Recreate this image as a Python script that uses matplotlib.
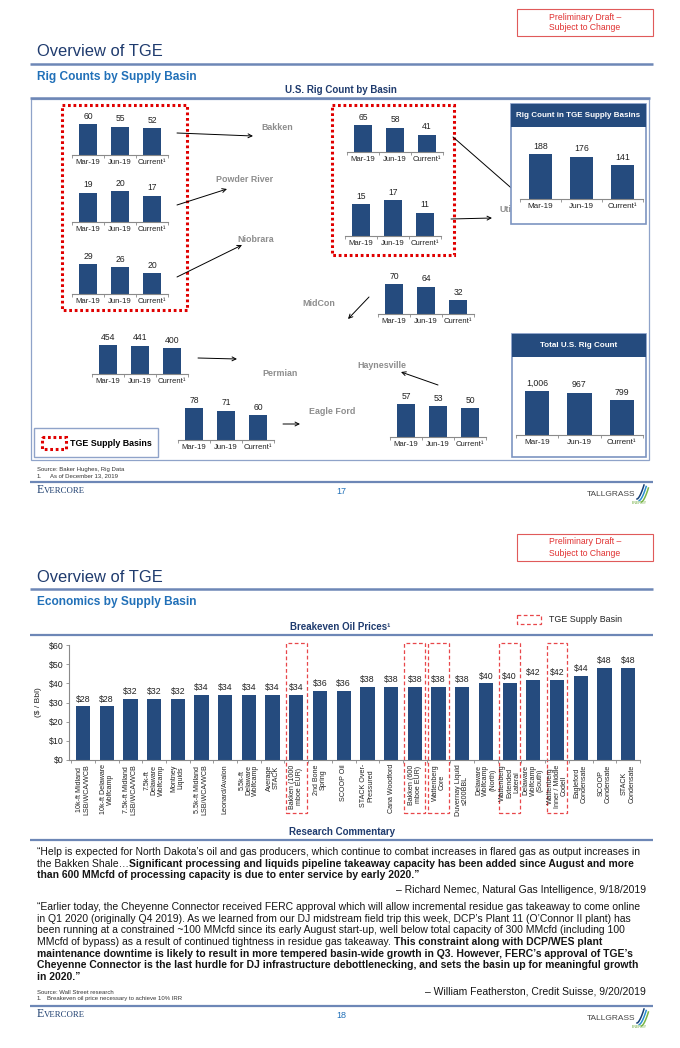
import numpy as np
import matplotlib
matplotlib.use('Agg')
import matplotlib.pyplot as plt
from matplotlib.patches import Rectangle

plt.rcParams['font.family'] = ['Liberation Sans', 'DejaVu Sans']

W, H = 680, 1048

# ---- rig counts (Mar-19, Jun-19, Current) ----
periods = ['Mar-19', 'Jun-19', 'Current¹']
bakken = [60, 55, 52]
powder_river = [19, 20, 17]
niobrara = [29, 26, 20]
marcellus = [65, 58, 41]
utica = [15, 17, 11]
midcon = [70, 64, 32]
permian = [454, 441, 400]
eagle_ford = [78, 71, 60]
haynesville = [57, 53, 50]
tge_total = [188, 176, 141]
us_total = [1006, 967, 799]
tge_change = '(25.0%)'
us_change = '(20.6%)'

# ---- breakeven oil prices ----
plays = ['10k-ft Midland\nLSB/WCA/WCB', '10k-ft Delaware\nWolfcamp', '7.5k-ft Midland\nLSB/WCA/WCB',
         '7.5k-ft\nDelaware\nWolfcamp', 'Montney\nLiquids', '5.5k-ft Midland\nLSB/WCA/WCB',
         'Leonard/Avalon', '5.5k-ft\nDelaware\nWolfcamp', 'Average\nSTACK', 'Bakken (1000\nmboe EUR)',
         '2nd Bone\nSpring', 'SCOOP Oil', 'STACK Over-\nPressured', 'Cana Woodford',
         'Bakken (600\nmboe EUR)', 'Wattenberg\nCore', 'Duvernay Liquid\ns200BBL',
         'Delaware\nWolfcamp\n(North)', 'Wattenberg\nExtended\nLateral', 'Delaware\nWolfcamp\n(South)',
         'Wattenberg\nInner / Middle\nCodell', 'Eagleford\nCondensate', 'SCOOP\nCondensate',
         'STACK\nCondensate']
breakeven = [28, 28, 32, 32, 32, 34, 34, 34, 34, 34, 36, 36, 38, 38, 38, 38, 38, 40, 40, 42, 42, 44, 48, 48]
tge_plays = [9, 14, 15, 18, 20]

NAVY = '#254b7e'
TITLE = '#1f3b6e'
SUB = '#2170b8'
RULE = '#6d87b6'
GRAY = '#8d8d8d'
RED = '#e31f26'
AXC = '#8a8a8a'

fig = plt.figure(figsize=(W / 100, H / 100), dpi=100)
bg = fig.add_axes([0, 0, 1, 1])
bg.set_xlim(0, W)
bg.set_ylim(H, 0)
bg.axis('off')
renderer = fig.canvas.get_renderer()


def px_axes(x0, y0, x1, y1):
    ax = fig.add_axes([x0 / W, 1 - y1 / H, (x1 - x0) / W, (y1 - y0) / H])
    ax.set_zorder(2)
    ax.patch.set_alpha(0)
    return ax


def hline(y, x0=30, x1=653, lw=1.6, color=RULE):
    bg.plot([x0, x1], [y, y], color=color, lw=lw, solid_capstyle='butt')


def rect(x0, y0, x1, y1, **kw):
    r = Rectangle((x0, y0), x1 - x0, y1 - y0, **kw)
    bg.add_patch(r)
    return r


def arrow(p0, p1, color='k', style='->', lw=0.7, ms=7):
    bg.annotate('', xy=p1, xytext=p0,
                arrowprops=dict(arrowstyle=style, color=color, lw=lw,
                                shrinkA=0, shrinkB=0, mutation_scale=ms))


def header(dy, subtitle):
    rect(517, 9 + dy, 653, 36 + dy, fill=False, ec='#e05a5a', lw=0.8)
    bg.text(585, 17 + dy, 'Preliminary Draft –', color='#e03030', fontsize=6.2,
            ha='center', va='center')
    bg.text(585, 28 + dy, 'Subject to Change', color='#e03030', fontsize=6.2,
            ha='center', va='center')
    bg.text(37, 52 + dy, 'Overview of TGE', color=TITLE, fontsize=11.9, va='center')
    hline(64 + dy, lw=1.8)
    bg.text(37, 77 + dy, subtitle, color=SUB, fontsize=8.6, fontweight='bold', va='center')


def logo(x, y):
    bg.text(x, y, 'TALLGRASS', fontsize=6, color='#454545', va='center', ha='left')
    bg.text(x + 60, y + 7.5, 'ENERGY', fontsize=2.6, color='#6cab3c', va='center', ha='right')
    t = np.linspace(0, 1, 30)
    for k, c in enumerate(['#143f78', '#2a8fcf', '#7ab648']):
        xs = x + 50 + k * 2.2 + 7 * t
        ys = y + 4 - 14 * t ** 1.6 + k * 1.5
        bg.plot(xs, ys, color=c, lw=1.1)


def footer(yl, num):
    hline(yl, lw=1.6)
    bg.text(37, yl + 11, 'E', family='Liberation Serif', fontsize=8.5, color='#1c3d6e', va='baseline')
    bg.text(44, yl + 11, 'VERCORE', family='Liberation Serif', fontsize=6.3, color='#1c3d6e',
            va='baseline')
    bg.text(341, yl + 10, num, fontsize=6.5, color=SUB, ha='center', va='center')
    logo(587, yl + 13)


def mini_chart(vals, x0, x1, base, hmax, width=0.56, vfs=6.2, tfs=5.6):
    ax = px_axes(x0, base - hmax, x1, base)
    x = np.arange(len(vals))
    ax.bar(x, vals, width=width, color=NAVY, linewidth=0)
    ax.set_xlim(-0.5, len(vals) - 0.5)
    ax.set_ylim(0, max(vals))
    for xi, v in zip(x, vals):
        ax.annotate(f'{v:,}', (xi, v), xytext=(0, 2.5), textcoords='offset points',
                    ha='center', va='bottom', fontsize=vfs, color='#222222')
    for s in ['top', 'right', 'left']:
        ax.spines[s].set_visible(False)
    ax.spines['bottom'].set_color(AXC)
    ax.spines['bottom'].set_linewidth(0.8)
    ax.set_yticks([])
    ax.set_xticks(np.arange(len(vals) + 1) - 0.5)
    ax.set_xticklabels([])
    ax.tick_params(axis='x', which='major', length=2.5, width=0.6, color=AXC, direction='out')
    ax.set_xticks(x, minor=True)
    ax.set_xticklabels(periods, minor=True, fontsize=tfs, color='#222222')
    ax.tick_params(axis='x', which='minor', length=0, pad=3)
    return ax


# ================= PAGE 1 =================
header(0, 'Rig Counts by Supply Basin')
bg.text(341, 90, 'U.S. Rig Count by Basin', color=TITLE, fontsize=7, fontweight='bold',
        ha='center', va='center')
hline(98, x0=30, x1=650, lw=1.8)
rect(31, 99, 649, 460, fill=False, ec='#8fa3c9', lw=0.9)

dotted = dict(fill=False, ec='#e00000', lw=2.2, ls=(0, (0.9, 0.9)))
rect(62, 105, 187, 310, zorder=3, **dotted)
rect(332, 105, 454, 255, zorder=3, **dotted)

mini_chart(bakken, 72, 168, 155, 31)
mini_chart(powder_river, 72, 168, 222, 31)
mini_chart(niobrara, 72, 168, 294, 30)
mini_chart(marcellus, 347, 443, 152, 27)
mini_chart(utica, 345, 441, 236, 36)
mini_chart(midcon, 378, 474, 314, 30)
mini_chart(permian, 92, 188, 374, 29)
mini_chart(eagle_ford, 178, 274, 440, 32)
mini_chart(haynesville, 390, 486, 437, 33)

lbl = dict(color=GRAY, fontsize=6.4, fontweight='bold', va='center', ha='left')
bg.text(261, 128, 'Bakken', **lbl)
bg.text(216, 179, 'Powder River', **lbl)
bg.text(237, 239, 'Niobrara', **lbl)
bg.text(302, 303, 'MidCon', **lbl)
bg.text(499, 209, 'Utica', **lbl)
bg.text(262, 374, 'Permian', **lbl)
bg.text(309, 412, 'Eagle Ford', **lbl)
bg.text(357, 366, 'Haynesville', **lbl)

arrow((177, 133), (253, 136))
arrow((177, 205), (227, 189))
arrow((177, 277), (242, 245))
arrow((453, 137), (525, 200))
arrow((451, 219), (492, 218))
arrow((369, 297), (348, 319))
arrow((198, 358), (237, 359))
arrow((283, 424), (300, 424))
arrow((438, 385), (401, 372))

# summary panels
for (x0, y0, x1, y1, title) in [(511, 104, 646, 224, 'Rig Count in TGE Supply Basins'),
                                (512, 334, 646, 457, 'Total U.S. Rig Count')]:
    rect(x0, y0, x1, y1, fc='white', ec='#7d95c1', lw=1.2, zorder=5)
    rect(x0, y0, x1, y0 + 23, fc=NAVY, ec='none', zorder=6)
    bg.text((x0 + x1) / 2, y0 + 11.5, title, color='white', fontsize=5.8, fontweight='bold',
            ha='center', va='center', zorder=7)

mini_chart(tge_total, 520, 643, 199, 45, width=0.54, vfs=6.3, tfs=5.9)
mini_chart(us_total, 516, 643, 435, 44, width=0.57, vfs=6.3, tfs=5.9)
arrow((538, 137), (618, 146), color=RED, style='-|>', lw=0.9, ms=6)
bg.text(579, 134, tge_change, color=RED, fontsize=5.9, fontweight='bold', ha='center',
        va='center', rotation=-5)
arrow((536, 368), (621, 381), color=RED, style='-|>', lw=0.9, ms=6)
bg.text(579, 368, us_change, color=RED, fontsize=5.9, fontweight='bold', ha='center',
        va='center', rotation=-7)

# legend box
rect(34, 428, 158, 457, fc='white', ec='#8fa3c9', lw=1.0, zorder=3)
rect(42, 437, 66, 449, zorder=4, **dotted)
bg.text(70, 443, 'TGE Supply Basins', fontsize=6.4, fontweight='bold', va='center', zorder=4)

bg.text(37, 469, 'Source: Baker Hughes, Rig Data', fontsize=4.3, color='#333333', va='center')
bg.text(37, 476, '1.', fontsize=4.3, color='#333333', va='center')
bg.text(50, 476, 'As of December 13, 2019', fontsize=4.3, color='#333333', va='center')
footer(482, '17')

# ================= PAGE 2 =================
header(525, 'Economics by Supply Basin')
rect(517, 615, 541, 624, fill=False, ec='#e8474a', lw=0.9, ls=(0, (3, 2)))
bg.text(549, 619.5, 'TGE Supply Basin', fontsize=6.4, va='center', color='#222222')
bg.text(340, 627, 'Breakeven Oil Prices¹', color=TITLE, fontsize=7, fontweight='bold',
        ha='center', va='center')
hline(635, lw=1.6)

ax = px_axes(69, 645, 640, 760)
xb = np.arange(len(breakeven))
ax.bar(xb, breakeven, width=0.6, color=NAVY, linewidth=0)
ax.set_xlim(-0.59, len(breakeven) - 0.5)
ax.set_ylim(0, 60)
for xi, v in zip(xb, breakeven):
    ax.annotate(f'${v}', (xi, v), xytext=(0, 2), textcoords='offset points',
                ha='center', va='bottom', fontsize=6.3, color='#222222')
for s in ['top', 'right']:
    ax.spines[s].set_visible(False)
for s in ['left', 'bottom']:
    ax.spines[s].set_color(AXC)
    ax.spines[s].set_linewidth(0.8)
ax.set_yticks(range(0, 61, 10))
ax.set_yticklabels([f'${v}' for v in range(0, 61, 10)])
ax.tick_params(axis='y', labelsize=6.3, length=2.5, width=0.6, color=AXC, pad=1.5,
               labelcolor='#222222')
ax.set_ylabel('($ / Bbl)', fontsize=6, color='#222222', labelpad=5)
ax.set_xticks(np.arange(len(breakeven) + 1) - 0.5)
ax.set_xticklabels([])
ax.tick_params(axis='x', which='major', length=2.5, width=0.6, color=AXC)
ax.set_xticks(xb, minor=True)
ax.set_xticklabels(plays, minor=True, rotation=90, fontsize=5.1, linespacing=1.0,
                   ha='center', va='top', multialignment='center', color='#222222')
ax.tick_params(axis='x', which='minor', length=0, pad=3)
for i in tge_plays:
    ax.add_patch(Rectangle((i - 0.44, -27.6), 0.88, 88.6, fill=False, ec='#e8474a', lw=0.9,
                           ls=(0, (3, 2)), clip_on=False))

bg.text(342, 832, 'Research Commentary', color=TITLE, fontsize=7, fontweight='bold',
        ha='center', va='center')
hline(840, lw=1.6)

FS = 7.45


def tw(s, weight):
    t = bg.text(0, 0, s, fontsize=FS, fontweight=weight)
    w = t.get_window_extent(renderer).width
    t.remove()
    return w


def rich_line(y, parts, x=37):
    for s, wgt in parts:
        lead = len(s) - len(s.lstrip(' '))
        if lead:
            x += tw('a a', wgt) - tw('aa', wgt)
        s = s.strip(' ')
        bg.text(x, y, s, fontsize=FS, fontweight=wgt, va='center_baseline', ha='left',
                color='#151515')
        x += tw('a' + s + 'a', wgt) - tw('aa', wgt)


N, B = 'normal', 'bold'
para1 = [
    [('“Help is expected for North Dakota’s oil and gas producers, which continue to combat increases in flared gas as output increases in', N)],
    [('the Bakken Shale…', N), ('Significant processing and liquids pipeline takeaway capacity has been added since August and more', B)],
    [('than 600 MMcfd of processing capacity is due to enter service by early 2020.”', B)],
]
para2 = [
    [('“Earlier today, the Cheyenne Connector received FERC approval which will allow incremental residue gas takeaway to come online', N)],
    [('in Q1 2020 (originally Q4 2019). As we learned from our DJ midstream field trip this week, DCP’s Plant 11 (O’Connor II plant) has', N)],
    [('been running at a constrained ~100 MMcfd since its early August start-up, well below total capacity of 300 MMcfd (including 100', N)],
    [('MMcfd of bypass) as a result of continued tightness in residue gas takeaway.', N), (' This constraint along with DCP/WES plant', B)],
    [('maintenance downtime is likely to result in more tempered basin-wide growth in Q3. However, FERC’s approval of TGE’s', B)],
    [('Cheyenne Connector is the last hurdle for DJ infrastructure debottlenecking, and sets the basin up for meaningful growth', B)],
    [('in 2020.”', B)],
]
for y, parts in zip([851, 863, 874], para1):
    rich_line(y, parts)
bg.text(646, 889, '– Richard Nemec, Natural Gas Intelligence, 9/18/2019', fontsize=FS,
        ha='right', va='center_baseline', color='#151515')
for y, parts in zip([906, 918, 929, 941, 953, 964, 976], para2):
    rich_line(y, parts)
bg.text(646, 991, '– William Featherston, Credit Suisse, 9/20/2019', fontsize=FS,
        ha='right', va='center_baseline', color='#151515')

bg.text(37, 992, 'Source: Wall Street research', fontsize=4.3, color='#333333', va='center')
bg.text(37, 998.5, '1.', fontsize=4.3, color='#333333', va='center')
bg.text(47, 998.5, 'Breakeven oil price necessary to achieve 10% IRR', fontsize=4.3,
        color='#333333', va='center')
footer(1006, '18')

fig.savefig('out.png', dpi=100)
